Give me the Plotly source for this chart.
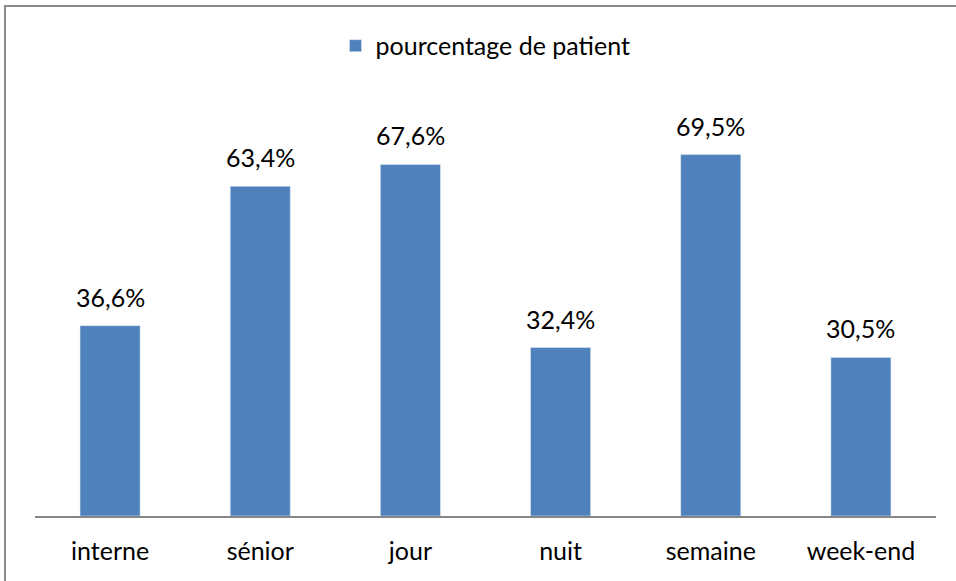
import plotly.graph_objects as go

categories = ['interne', 'sénior', 'jour', 'nuit', 'semaine', 'week-end']
values = [36.6, 63.4, 67.6, 32.4, 69.5, 30.5]
series_name = 'pourcentage de patient'

W, H = 956, 581
ml, mr, mt, mb = 35, 20, 100, 65

fig = go.Figure(go.Bar(
    x=categories, y=values, name=series_name,
    marker=dict(color='#4F81BD'),
    width=0.4,
    showlegend=True,
))

# data labels, kept a bit above the bars like the original
for c, v in zip(categories, values):
    fig.add_annotation(x=c, y=v, text=f'{v:.1f}%'.replace('.', ','),
                       showarrow=False, yanchor='bottom', yshift=12,
                       font=dict(size=25, color='#000000'))

pw = W - ml - mr
ph = H - mt - mb
# outer chart border (only top and left edges fall inside the picture)
fig.add_shape(type='rect', xref='paper', yref='paper',
              x0=(5 - ml) / pw, x1=(970 - ml) / pw,
              y0=-(600 - (H - mb)) / ph, y1=(H - mb - 6) / ph,
              line=dict(color='#8c8c8c', width=2))

fig.update_layout(
    width=W, height=H,
    margin=dict(l=ml, r=mr, t=mt, b=mb),
    paper_bgcolor='white', plot_bgcolor='white',
    font=dict(family='Lato, Carlito, sans-serif', size=25, color='#000000'),
    bargap=0.6,
    legend=dict(orientation='h', x=0.5, xanchor='center', y=1.13, yanchor='middle',
                font=dict(size=25)),
    xaxis=dict(showline=True, linecolor='#868686', linewidth=1.5, ticks='',
               tickfont=dict(size=25), showgrid=False, ticklabelstandoff=12),
    yaxis=dict(range=[0, 80], visible=False, showgrid=False),
)

fig.write_html("out.html", config={'displayModeBar': False},
               post_script="document.body.style.margin='0';")
